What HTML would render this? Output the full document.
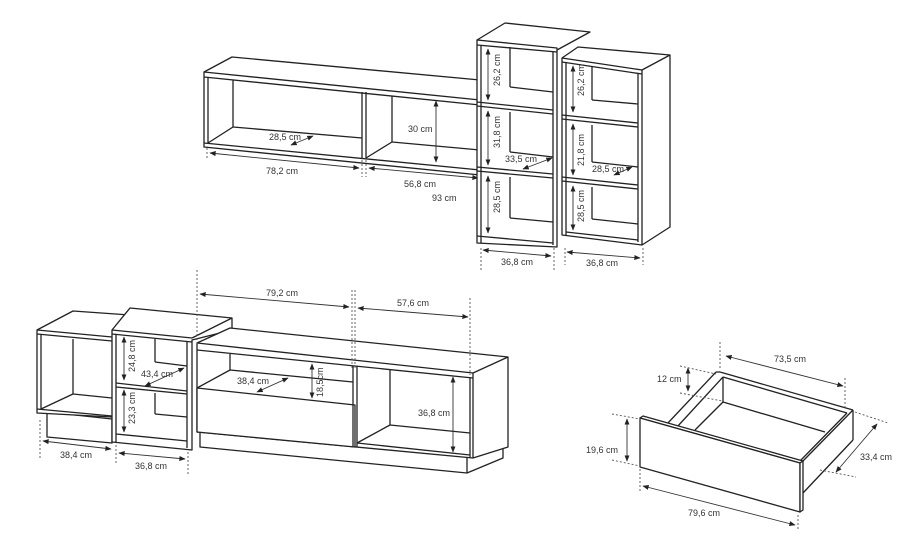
<!DOCTYPE html>
<html><head><meta charset="utf-8"><style>
html,body{margin:0;padding:0;background:#fff;}
svg{display:block;}
text{font-family:"Liberation Sans",sans-serif;font-size:9px;fill:#333;}
.l{stroke:#222;stroke-width:1.3;fill:none;stroke-linejoin:round}
.f{stroke:#222;stroke-width:1.3;fill:#fff;stroke-linejoin:round}
.d{stroke:#555;stroke-width:0.9;stroke-dasharray:2,2;fill:none}
.a{stroke:#333;stroke-width:0.9;fill:none;marker-start:url(#ah);marker-end:url(#ah)}
</style></head><body>
<svg width="900" height="550" viewBox="0 0 900 550" xmlns="http://www.w3.org/2000/svg">
<defs><marker id="ah" viewBox="0 0 10 10" refX="9" refY="5" markerWidth="7" markerHeight="7" orient="auto-start-reverse"><path d="M0,1 L10,5 L0,9 z" fill="#222"/></marker></defs>

<!-- ===== Wall shelf ===== -->
<polygon class="f" points="204,72 232,57 480,80 480,175 204,147"/>
<line class="l" x1="204" y1="72" x2="480" y2="100"/>
<line class="l" x1="204" y1="77" x2="480" y2="105"/>
<line class="l" x1="204" y1="143" x2="480" y2="170"/>
<line class="l" x1="208" y1="77" x2="208" y2="143"/>
<line class="l" x1="233" y1="80" x2="233" y2="127"/>
<line class="l" x1="233" y1="127" x2="362" y2="138"/>
<line class="l" x1="208" y1="143" x2="233" y2="127"/>
<line class="l" x1="362" y1="92" x2="362" y2="158"/>
<line class="l" x1="366" y1="92" x2="366" y2="158"/>
<line class="l" x1="392" y1="96" x2="392" y2="142"/>
<line class="l" x1="392" y1="142" x2="480" y2="150"/>
<line class="l" x1="366" y1="158" x2="392" y2="142"/>
<line class="d" x1="207" y1="148" x2="207" y2="160"/>
<line class="d" x1="362" y1="160" x2="362" y2="177"/>
<line class="d" x1="366" y1="160" x2="366" y2="177"/>
<line class="a" x1="210" y1="153" x2="359" y2="168"/>
<text x="266" y="174">78,2 cm</text>
<line class="a" x1="369" y1="168" x2="478" y2="178"/>
<text x="404" y="187">56,8 cm</text>
<text x="432" y="201">93 cm</text>
<line class="a" x1="436" y1="101" x2="436" y2="162"/>
<text x="408" y="132">30 cm</text>
<line class="a" x1="291" y1="145" x2="313" y2="136"/>
<text x="269" y="140">28,5 cm</text>

<!-- ===== Bookcase 1 top (behind) ===== -->
<polygon class="f" points="477,40 505,23 590,32 557,50"/>

<!-- ===== Bookcase 2 (right) ===== -->
<polygon class="f" points="562,58 578,47 670,55 670,227 642,245 562,235"/>
<line class="l" x1="562" y1="58" x2="642" y2="70"/>
<line class="l" x1="562" y1="62" x2="642" y2="74"/>
<line class="l" x1="642" y1="70" x2="670" y2="55"/>
<line class="l" x1="642" y1="70" x2="642" y2="245"/>
<line class="l" x1="638" y1="74" x2="638" y2="242"/>
<line class="l" x1="566" y1="62" x2="566" y2="236"/>
<line class="l" x1="562" y1="115" x2="638" y2="123"/>
<line class="l" x1="562" y1="119" x2="638" y2="127"/>
<line class="l" x1="562" y1="177" x2="638" y2="185"/>
<line class="l" x1="562" y1="181" x2="638" y2="189"/>
<line class="l" x1="566" y1="232" x2="638" y2="240"/>
<line class="l" x1="592" y1="66" x2="592" y2="100"/>
<line class="l" x1="592" y1="100" x2="638" y2="104"/>
<line class="l" x1="592" y1="125" x2="592" y2="162"/>
<line class="l" x1="592" y1="162" x2="638" y2="167"/>
<line class="l" x1="592" y1="187" x2="592" y2="219"/>
<line class="l" x1="592" y1="219" x2="638" y2="224"/>
<line class="a" x1="573" y1="66" x2="573" y2="112"/>
<text transform="translate(584,96) rotate(-90)">26,2 cm</text>
<line class="a" x1="573" y1="124" x2="573" y2="175"/>
<text transform="translate(584,166) rotate(-90)">21,8 cm</text>
<line class="a" x1="573" y1="186" x2="573" y2="230"/>
<text transform="translate(584,222) rotate(-90)">28,5 cm</text>
<line class="a" x1="614" y1="175" x2="632" y2="167"/>
<text x="592" y="172">28,5 cm</text>
<line class="d" x1="565" y1="248" x2="565" y2="265"/>
<line class="d" x1="643" y1="248" x2="643" y2="265"/>
<line class="a" x1="567" y1="252" x2="640" y2="258"/>
<text x="586" y="266">36,8 cm</text>

<!-- ===== Bookcase 1 front ===== -->
<polygon class="f" points="477,40 557,48 557,247 477,243"/>
<line class="l" x1="477" y1="45" x2="557" y2="52"/>
<line class="l" x1="553" y1="52" x2="553" y2="245"/>
<line class="l" x1="481" y1="45" x2="481" y2="243"/>
<line class="l" x1="477" y1="102" x2="553" y2="110"/>
<line class="l" x1="477" y1="106" x2="553" y2="114"/>
<line class="l" x1="477" y1="167" x2="553" y2="174"/>
<line class="l" x1="477" y1="171" x2="553" y2="178"/>
<line class="l" x1="477" y1="236" x2="553" y2="243"/>
<line class="l" x1="510" y1="47" x2="510" y2="87"/>
<line class="l" x1="510" y1="87" x2="553" y2="92"/>
<line class="l" x1="510" y1="112" x2="510" y2="152"/>
<line class="l" x1="510" y1="152" x2="553" y2="157"/>
<line class="l" x1="510" y1="177" x2="510" y2="218"/>
<line class="l" x1="510" y1="218" x2="553" y2="222"/>
<line class="a" x1="488" y1="49" x2="488" y2="100"/>
<text transform="translate(500,86) rotate(-90)">26,2 cm</text>
<line class="a" x1="488" y1="111" x2="488" y2="165"/>
<text transform="translate(500,148) rotate(-90)">31,8 cm</text>
<line class="a" x1="488" y1="176" x2="488" y2="233"/>
<text transform="translate(500,213) rotate(-90)">28,5 cm</text>
<line class="a" x1="523" y1="169" x2="552" y2="158"/>
<text x="505" y="162">33,5 cm</text>
<line class="d" x1="481" y1="248" x2="481" y2="270"/>
<line class="d" x1="554" y1="248" x2="554" y2="270"/>
<line class="a" x1="483" y1="250" x2="551" y2="256"/>
<text x="501" y="265">36,8 cm</text>

<!-- ===== Lower left cube ===== -->
<polygon class="f" points="47,412 112,419 112,443 47,437"/>
<polygon class="f" points="37,330 73,311 130,315 130,400 112,417 37,413"/>
<line class="l" x1="37" y1="330" x2="112" y2="337"/>
<line class="l" x1="37" y1="334" x2="112" y2="341"/>
<line class="l" x1="41" y1="334" x2="41" y2="409"/>
<line class="l" x1="73" y1="339" x2="73" y2="394"/>
<line class="l" x1="41" y1="409" x2="73" y2="394"/>
<line class="l" x1="73" y1="394" x2="112" y2="398"/>
<line class="l" x1="37" y1="409" x2="112" y2="416"/>
<!-- ===== Middle cube ===== -->
<polygon class="f" points="112,330 130,308 232,318 232,330 192,340 192,450 112,442"/>
<line class="l" x1="112" y1="330" x2="192" y2="338"/>
<line class="l" x1="112" y1="334" x2="192" y2="342"/>
<line class="l" x1="192" y1="338" x2="232" y2="318"/>
<line class="l" x1="116" y1="334" x2="116" y2="442"/>
<line class="l" x1="187" y1="342" x2="187" y2="448"/>
<line class="l" x1="116" y1="383" x2="187" y2="391"/>
<line class="l" x1="116" y1="387" x2="187" y2="394"/>
<line class="l" x1="116" y1="434" x2="187" y2="441"/>
<line class="l" x1="155" y1="339" x2="155" y2="362"/>
<line class="l" x1="155" y1="362" x2="187" y2="366"/>
<line class="l" x1="155" y1="393" x2="155" y2="414"/>
<line class="l" x1="155" y1="414" x2="187" y2="417"/>
<line class="a" x1="124" y1="337" x2="124" y2="380"/>
<text transform="translate(135,372) rotate(-90)">24,8 cm</text>
<line class="a" x1="124" y1="390" x2="124" y2="432"/>
<text transform="translate(135,424) rotate(-90)">23,3 cm</text>
<line class="a" x1="145" y1="386" x2="184" y2="368"/>
<text x="141" y="377">43,4 cm</text>
<line class="d" x1="40" y1="420" x2="40" y2="460"/>
<line class="d" x1="116" y1="445" x2="116" y2="463"/>
<line class="d" x1="188" y1="452" x2="188" y2="475"/>
<line class="a" x1="43" y1="441" x2="111" y2="449"/>
<text x="60" y="458">38,4 cm</text>
<line class="a" x1="119" y1="453" x2="185" y2="459"/>
<text x="135" y="469">36,8 cm</text>

<!-- ===== TV unit ===== -->
<polygon class="f" points="200,432 467,457 503,447 503,458 467,473 200,447"/>
<line class="l" x1="467" y1="457" x2="467" y2="473"/>
<polygon class="f" points="197,343 230,328 508,357 508,447 473,458 197,432"/>
<line class="l" x1="197" y1="343" x2="473" y2="373"/>
<line class="l" x1="197" y1="350" x2="473" y2="378"/>
<line class="l" x1="473" y1="373" x2="508" y2="357"/>
<line class="l" x1="473" y1="373" x2="473" y2="458"/>
<line class="l" x1="470" y1="378" x2="470" y2="458"/>
<polygon class="f" points="197,388 355,405 355,447 197,432"/>
<line class="l" x1="197" y1="388" x2="230" y2="370"/>
<line class="l" x1="230" y1="354" x2="230" y2="370"/>
<line class="l" x1="230" y1="370" x2="353" y2="382"/>
<line class="l" x1="353" y1="366" x2="353" y2="447"/>
<line class="l" x1="357" y1="366" x2="357" y2="447"/>
<line class="l" x1="357" y1="443" x2="470" y2="455"/>
<line class="l" x1="357" y1="443" x2="390" y2="425"/>
<line class="l" x1="390" y1="370" x2="390" y2="425"/>
<line class="l" x1="390" y1="425" x2="470" y2="433"/>
<line class="a" x1="312" y1="364" x2="312" y2="398"/>
<text transform="translate(323,397) rotate(-90)">18,5cm</text>
<line class="a" x1="257" y1="392" x2="288" y2="378"/>
<text x="237" y="384">38,4 cm</text>
<line class="a" x1="453" y1="377" x2="453" y2="452"/>
<text x="418" y="416">36,8 cm</text>
<line class="d" x1="197" y1="270" x2="197" y2="345"/>
<line class="d" x1="352" y1="290" x2="352" y2="370"/>
<line class="d" x1="355" y1="290" x2="355" y2="370"/>
<line class="d" x1="470" y1="298" x2="470" y2="375"/>
<line class="a" x1="200" y1="294" x2="349" y2="307"/>
<text x="266" y="296">79,2 cm</text>
<line class="a" x1="358" y1="308" x2="468" y2="317"/>
<text x="397" y="306">57,6 cm</text>

<!-- ===== Drawer ===== -->
<line class="l" x1="720" y1="372" x2="853" y2="410"/>
<line class="l" x1="723" y1="377" x2="847" y2="413"/>
<line class="l" x1="716" y1="372" x2="667" y2="424"/>
<line class="l" x1="723" y1="377" x2="677" y2="427"/>
<line class="l" x1="716" y1="372" x2="720" y2="372"/>
<line class="l" x1="723" y1="377" x2="723" y2="402"/>
<line class="l" x1="723" y1="402" x2="825" y2="432"/>
<line class="l" x1="723" y1="402" x2="695" y2="430"/>
<line class="l" x1="853" y1="410" x2="803" y2="461"/>
<line class="l" x1="847" y1="413" x2="800" y2="461"/>
<line class="l" x1="853" y1="410" x2="853" y2="440"/>
<line class="l" x1="853" y1="440" x2="803" y2="493"/>
<polygon class="f" points="640,418 643,416 803,461 800,463"/>
<polygon class="f" points="640,418 800,463 800,512 640,467"/>
<polygon class="f" points="800,463 803,461 803,510 800,512"/>
<line class="d" x1="720" y1="342" x2="720" y2="370"/>
<line class="d" x1="845" y1="378" x2="845" y2="410"/>
<line class="a" x1="726" y1="356" x2="843" y2="386"/>
<text x="774" y="362">73,5 cm</text>
<line class="d" x1="680" y1="366" x2="716" y2="374"/>
<line class="d" x1="680" y1="393" x2="722" y2="401"/>
<line class="a" x1="688" y1="368" x2="688" y2="391"/>
<text x="657" y="382">12 cm</text>
<line class="d" x1="612" y1="414" x2="640" y2="419"/>
<line class="d" x1="612" y1="460" x2="640" y2="466"/>
<line class="a" x1="627" y1="419" x2="627" y2="461"/>
<text x="586" y="453">19,6 cm</text>
<line class="d" x1="640" y1="469" x2="640" y2="493"/>
<line class="d" x1="798" y1="515" x2="798" y2="530"/>
<line class="a" x1="643" y1="486" x2="795" y2="525"/>
<text x="688" y="516">79,6 cm</text>
<line class="d" x1="855" y1="412" x2="888" y2="423"/>
<line class="d" x1="820" y1="470" x2="856" y2="477"/>
<line class="a" x1="836" y1="472" x2="877" y2="424"/>
<text x="860" y="460">33,4 cm</text>
</svg>
</body></html>
